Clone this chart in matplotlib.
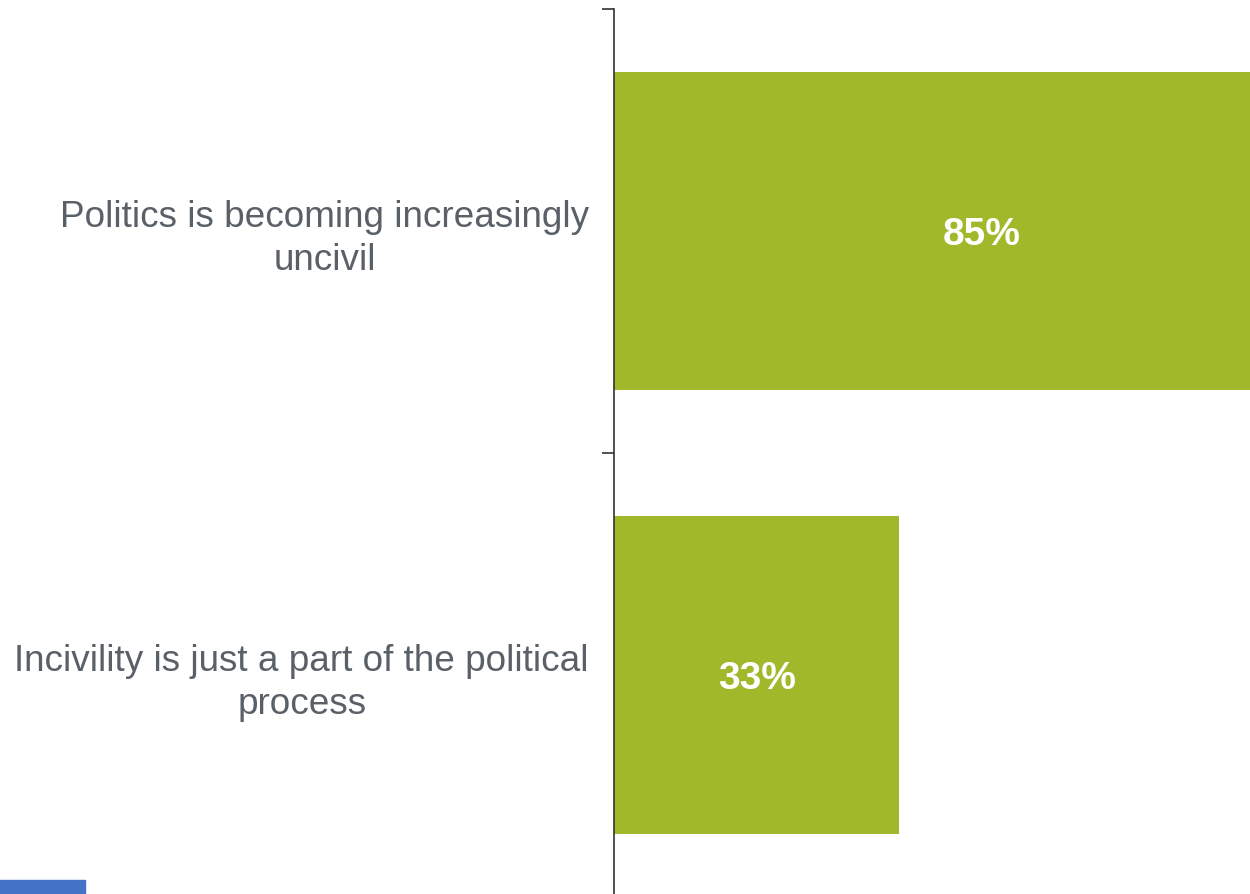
import numpy as np
import matplotlib.pyplot as plt
from matplotlib.patches import Rectangle

categories = ['Politics is becoming increasingly\nuncivil',
              'Incivility is just a part of the political\nprocess']
values = [85, 33]
value_labels = ['85%', '33%']

plt.rcParams['font.family'] = ['Liberation Sans', 'DejaVu Sans']

fig = plt.figure(figsize=(12.5, 8.94), dpi=100)
ax = fig.add_axes([614 / 1250, -3 / 894, 636 / 1250, 888 / 894])

ypos = np.arange(len(categories))
ax.barh(ypos, values, height=0.714, color='#a2b82b')
for y, v, lab in zip(ypos, values, value_labels):
	ax.text(v / 2, y + 0.01, lab, ha='center', va='center', color='white',
	        fontsize=28, fontweight='bold')

ax.set_xlim(0, 73.6)
ax.set_ylim(1.5, -0.5)

ax.set_yticks(ypos)
ax.set_yticklabels(categories, fontsize=26.6, color='#5a6068', multialignment='center',
                   linespacing=1.3)
ax.tick_params(axis='y', which='major', length=0, pad=18)
ax.set_yticks([-0.5, 0.5, 1.5], minor=True)
ax.tick_params(axis='y', which='minor', length=8.6, width=1.2, color='#333333')
ax.set_xticks([])

for s in ['top', 'right', 'bottom']:
	ax.spines[s].set_visible(False)
ax.spines['left'].set_color('#333333')
ax.spines['left'].set_linewidth(1.2)

fig.patches.append(Rectangle((0, 0), 85 / 1250, 14 / 894, transform=fig.transFigure,
                             color='#4472c4', zorder=5))

plt.savefig('out.png', dpi=100)
